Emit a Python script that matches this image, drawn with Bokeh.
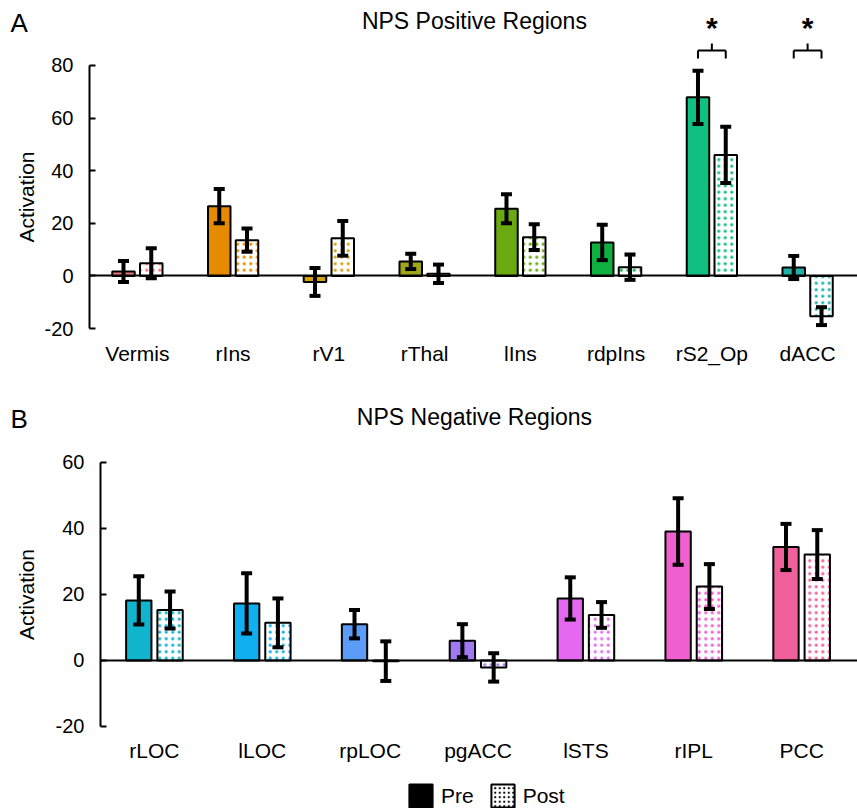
import math
import numpy as np
from bokeh.plotting import figure
from bokeh.models import (Range1d, FixedTicker, Label, Legend, LegendItem,
                          ColumnDataSource, LinearAxis)
from bokeh.transform import dodge
from bokeh.layouts import column
from bokeh.embed import file_html
from bokeh.resources import INLINE
from bokeh.core.properties import value

FONT = "Liberation Sans"

# ---------------- Panel A: NPS Positive Regions ----------------
regions_a = ["Vermis", "rIns", "rV1", "rThal", "lIns", "rdpIns", "rS2_Op", "dACC"]
pre_a = [1.7, 26.5, -2.3, 5.5, 25.5, 12.7, 67.9, 3.2]
pre_err_a = [4.0, 6.5, 5.3, 2.9, 5.5, 6.7, 10.1, 4.4]
post_a = [4.8, 13.6, 14.3, 0.8, 14.7, 3.3, 46.0, -15.3]
post_err_a = [5.7, 4.4, 6.6, 3.5, 4.9, 4.8, 10.7, 3.4]
colors_a = ["#e8787a", "#e68a00", "#d4a20c", "#9fa61a", "#6aaa10", "#10b040", "#10c080", "#20b0a8"]
ticks_a = [-20, 0, 20, 40, 60, 80]
sig_a = ["rS2_Op", "dACC"]

# ---------------- Panel B: NPS Negative Regions ----------------
regions_b = ["rLOC", "lLOC", "rpLOC", "pgACC", "lSTS", "rIPL", "PCC"]
pre_b = [18.2, 17.3, 11.0, 6.0, 18.8, 39.1, 34.4]
pre_err_b = [7.3, 9.1, 4.3, 5.0, 6.4, 10.1, 7.0]
post_b = [15.3, 11.4, -0.2, -2.1, 13.8, 22.4, 32.1]
post_err_b = [5.6, 7.4, 6.0, 4.3, 3.9, 6.8, 7.4]
colors_b = ["#10b4cc", "#10b0f0", "#5b9cf8", "#a078f0", "#e468f0", "#f060d0", "#f0609a"]
ticks_b = [-20, 0, 20, 40, 60]
sig_b = []

legend_labels = ["Pre", "Post"]

OFF = 0.145
BW = 0.235


def make_panel(letter, title, regions, pre, pre_err, post, post_err, colors, ticks,
               sig, x_lo, x_hi, y_lo, y_hi, height, title_x, title_y,
               letter_x, letter_y, ylab_x):
    p = figure(width=857, height=height,
               x_range=Range1d(x_lo, x_hi), y_range=Range1d(y_lo, y_hi),
               output_backend="svg", toolbar_location=None, title=None,
               x_axis_type=None, y_axis_type=None,
               min_border_left=0, min_border_right=0,
               min_border_top=0, min_border_bottom=0)
    p.outline_line_color = None
    p.grid.visible = False

    pos = [i + 0.5 for i in range(len(regions))]
    src = ColumnDataSource(dict(
        pos=pos, region=regions, pre=pre, post=post, color=colors,
        pre_lo=[v - e for v, e in zip(pre, pre_err)],
        pre_hi=[v + e for v, e in zip(pre, pre_err)],
        post_lo=[v - e for v, e in zip(post, post_err)],
        post_hi=[v + e for v, e in zip(post, post_err)],
    ))

    xpre = dodge("pos", -OFF)
    xpost = dodge("pos", OFF)

    p.vbar(x=xpre, top="pre", bottom=0, width=BW, source=src,
           fill_color="color", line_color="black", line_width=2)
    p.vbar(x=xpost, top="post", bottom=0, width=BW, source=src,
           fill_color="white", hatch_pattern=".", hatch_color="color",
           hatch_scale=6.5, hatch_weight=1, line_color="black", line_width=2)

    for xx, lo, hi in ((xpre, "pre_lo", "pre_hi"), (xpost, "post_lo", "post_hi")):
        p.segment(x0=xx, y0=lo, x1=xx, y1=hi, source=src, line_color="black", line_width=4)
        p.scatter(x=xx, y=lo, source=src, marker="dash", size=11, line_color="black", line_width=4)
        p.scatter(x=xx, y=hi, source=src, marker="dash", size=11, line_color="black", line_width=4)

    if sig:
        spos = [pos[regions.index(r)] for r in sig]
        s = ColumnDataSource(dict(pos=spos, star=["*"] * len(sig)))
        br_y, br_leg, br_top, star_y = 85.7, 82.7, 88.4, 94.4
        sl = dodge("pos", -OFF)
        sr = dodge("pos", OFF)
        p.segment(x0=sl, y0=br_y, x1=sr, y1=br_y, source=s, line_color="black", line_width=2)
        p.segment(x0=sl, y0=br_y, x1=sl, y1=br_leg, source=s, line_color="black", line_width=2)
        p.segment(x0=sr, y0=br_y, x1=sr, y1=br_leg, source=s, line_color="black", line_width=2)
        p.segment(x0="pos", y0=br_y, x1="pos", y1=br_top, source=s, line_color="black", line_width=2)
        p.text(x="pos", y=star_y, text="star", source=s, text_align="center",
               text_baseline="alphabetic", text_font=value(FONT), text_font_size="30px",
               text_font_style="bold", text_color="black")

    # y axis, drawn at x = 0
    yax = LinearAxis(fixed_location=0, bounds=(ticks[0], ticks[-1]),
                     ticker=FixedTicker(ticks=ticks),
                     major_label_overrides={t: str(t) for t in ticks})
    yax.axis_line_width = 2
    yax.axis_line_color = "black"
    yax.major_tick_in = 6
    yax.major_tick_out = 0
    yax.major_tick_line_width = 2
    yax.major_tick_line_color = "black"
    yax.minor_tick_line_color = None
    yax.major_label_text_font = FONT
    yax.major_label_text_font_size = "20px"
    yax.major_label_text_color = "black"
    yax.major_label_standoff = 16
    p.add_layout(yax, "left")

    # category axis, labels below y = -20
    xax = LinearAxis(fixed_location=ticks[0], ticker=FixedTicker(ticks=pos),
                     major_label_overrides=dict(zip(pos, regions)))
    xax.axis_line_color = None
    xax.major_tick_line_color = None
    xax.minor_tick_line_color = None
    xax.major_tick_in = 0
    xax.major_tick_out = 0
    xax.major_label_text_font = FONT
    xax.major_label_text_font_size = "21px"
    xax.major_label_text_color = "black"
    xax.major_label_standoff = 13
    p.add_layout(xax, "below")

    # zero baseline axis
    zax = LinearAxis(fixed_location=0, bounds=(0, x_hi), ticker=FixedTicker(ticks=[]))
    zax.axis_line_width = 2
    zax.axis_line_color = "black"
    zax.major_tick_line_color = None
    zax.minor_tick_line_color = None
    zax.major_label_text_font_size = "0px"
    p.add_layout(zax, "below")

    p.add_layout(Label(x=title_x, y=title_y, text=title,
                       text_font=FONT, text_font_size="23px", text_color="black",
                       text_align="center", text_baseline="middle"))
    p.add_layout(Label(x=letter_x, y=letter_y, text=letter,
                       text_font=FONT, text_font_size="26px", text_color="black",
                       text_align="left", text_baseline="middle"))
    p.add_layout(Label(x=ylab_x, y=(ticks[0] + ticks[-1]) / 2,
                       text="Activation", angle=math.pi / 2, text_font=FONT,
                       text_font_size="21px", text_color="black",
                       text_align="center", text_baseline="middle"))
    return p


pa = make_panel("A", "NPS Positive Regions", regions_a, pre_a, pre_err_a, post_a, post_err_a,
                colors_a, ticks_a, sig_a, x_lo=-0.9295, x_hi=8.021, y_lo=-37.87, y_hi=104.71,
                height=375, title_x=4.02, title_y=96.9, letter_x=-0.825, letter_y=96.0,
                ylab_x=-0.658)

pb = make_panel("B", "NPS Negative Regions", regions_b, pre_b, pre_err_b, post_b, post_err_b,
                colors_b, ticks_b, sig_b, x_lo=-0.927, x_hi=7.018, y_lo=-44.85, y_hi=86.36,
                height=433, title_x=3.467, title_y=73.9, letter_x=-0.834, letter_y=73.3,
                ylab_x=-0.686)

# legend swatches: renderers with a single non-drawable (NaN) point
r_pre = pb.vbar(x=np.array([np.nan]), top=np.array([np.nan]), width=0.2,
                fill_color="black", line_color="black", line_width=2)
r_post = pb.vbar(x=np.array([np.nan]), top=np.array([np.nan]), width=0.2,
                 fill_color="white", hatch_pattern=".", hatch_color="black",
                 hatch_scale=4.5, hatch_weight=1, line_color="black", line_width=2)
legend = Legend(items=[LegendItem(label=legend_labels[0], renderers=[r_pre]),
                       LegendItem(label=legend_labels[1], renderers=[r_post])],
                orientation="horizontal", location=(406, -2),
                glyph_width=29, glyph_height=29, label_text_font=FONT,
                label_text_font_size="21px", label_text_color="black",
                spacing=14, padding=0, margin=0, label_standoff=6,
                border_line_color=None, background_fill_alpha=0)
pb.add_layout(legend, "center")

layout = column(pa, pb, spacing=0)
open("out.html", "w").write(file_html(layout, INLINE))
